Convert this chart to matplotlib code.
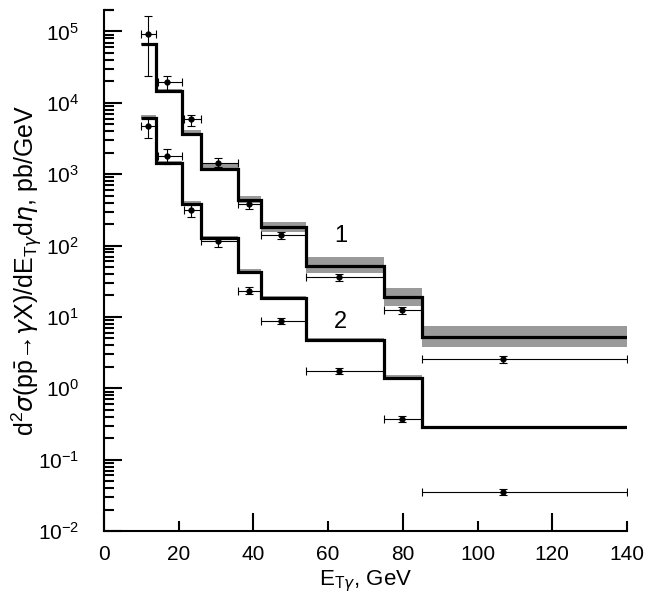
import numpy as np
import matplotlib
matplotlib.use("Agg")
import matplotlib.pyplot as plt
from matplotlib.ticker import FixedLocator, NullFormatter, FormatStrFormatter, LogFormatterSciNotation

plt.rcParams['font.family'] = ['Liberation Sans', 'DejaVu Sans']
plt.rcParams['mathtext.fontset'] = 'custom'
plt.rcParams['mathtext.rm'] = 'Liberation Sans'
plt.rcParams['mathtext.it'] = 'DejaVu Sans:italic'
plt.rcParams['mathtext.sf'] = 'Liberation Sans'
plt.rcParams['axes.unicode_minus'] = False

# bin edges (GeV)
edges = [10, 14, 21, 26, 36, 42, 54, 75, 85, 140]

# theory curve 1 (upper) and its band
theory1 = [6.6e4, 1.46e4, 3.7e3, 1.2e3, 436, 181, 52, 18.8, 5.3]
band1_hi = [7.0e4, 1.55e4, 4.2e3, 1.45e3, 497, 216, 68.6, 25.7, 7.5]
band1_lo = [6.4e4, 1.40e4, 3.5e3, 1.10e3, 392, 157, 41.7, 14.2, 3.75]

# theory curve 2 (lower) and its band
theory2 = [6.2e3, 1.43e3, 383, 126, 43, 18.2, 4.74, 1.40, 0.288]
band2_hi = [6.7e3, 1.55e3, 415, 137, 47, 19.8, 5.1, 1.52, 0.30]
band2_lo = [6.0e3, 1.39e3, 372, 122, 41.5, 17.6, 4.6, 1.36, 0.28]

# measured points
x_pts = [11.7, 17.0, 23.3, 30.4, 38.9, 47.4, 63.0, 79.8, 106.9]
x_lo = [10, 14.5, 21.5, 26, 36, 42, 54, 75, 85]
x_hi = [14, 21, 26, 36, 42, 54, 75, 85, 140]

y1 = [9.3e4, 1.93e4, 5.9e3, 1.44e3, 379, 139, 35.9, 12.5, 2.57]
y1_up = [1.63e5, 2.4e4, 6.7e3, 1.66e3, 436, 155, 39.8, 13.9, 2.86]
y1_dn = [2.4e4, 1.52e4, 4.75e3, 1.28e3, 323, 125, 32.2, 11.0, 2.28]

y2 = [4.8e3, 1.77e3, 316, 116, 23.1, 8.85, 1.76, 0.37, 0.0347]
y2_up = [6.3e3, 2.24e3, 371, 129, 26.0, 9.67, 1.93, 0.41, 0.0385]
y2_dn = [3.2e3, 1.40e3, 250, 94.6, 20.8, 7.94, 1.60, 0.34, 0.0315]

decades = [1e-2, 1e-1, 1e0, 1e1, 1e2, 1e3, 1e4, 1e5]

fig = plt.figure(figsize=(6.64, 6.08), dpi=100)
ax = fig.add_axes([0.1566, 0.1266, 0.7877, 0.857])

for hi, lo in [(band1_hi, band1_lo), (band2_hi, band2_lo)]:
    ax.stairs(hi, edges, baseline=lo, fill=True, color='#9a9a9a', lw=0)
for th in [theory1, theory2]:
    ax.stairs(th, edges, baseline=None, color='black', lw=2.3)

xp = np.array(x_pts)
xerr = [xp - np.array(x_lo), np.array(x_hi) - xp]
for y, up, dn in [(y1, y1_up, y1_dn), (y2, y2_up, y2_dn)]:
    y = np.array(y)
    yerr = [y - np.array(dn), np.array(up) - y]
    ax.errorbar(xp, y, xerr=xerr, yerr=yerr, fmt='o', ms=3.5, color='black',
                ecolor='black', elinewidth=0.8, capsize=3, capthick=0.8)

ax.text(63.3, 136, '1', fontsize=17, ha='center', va='center')
ax.text(63.3, 8.5, '2', fontsize=17, ha='center', va='center')

ax.set_yscale('log')
ax.set_xlim(0, 140)
ax.set_ylim(1e-2, 2e5)

for s in ['top', 'right']:
    ax.spines[s].set_visible(False)
for s in ['left', 'bottom']:
    ax.spines[s].set_linewidth(1.5)

ax.xaxis.set_major_locator(FixedLocator([0, 40, 80, 120]))
ax.xaxis.set_minor_locator(FixedLocator([20, 60, 100, 140]))
ax.xaxis.set_major_formatter(FormatStrFormatter('%d'))
ax.xaxis.set_minor_formatter(FormatStrFormatter('%d'))

minor_y = [m * d for d in decades for m in range(2, 10)] + [2e5]
minor_y = [v for v in minor_y if v <= 2e5]
ax.yaxis.set_major_locator(FixedLocator(decades))
ax.yaxis.set_minor_locator(FixedLocator(minor_y))
ax.yaxis.set_major_formatter(LogFormatterSciNotation())
ax.yaxis.set_minor_formatter(NullFormatter())

ax.tick_params(which='major', direction='in', length=13, width=1.5, labelsize=15, pad=10)
ax.tick_params(which='minor', direction='in', length=7, width=1.5, labelsize=15, pad=10)
ax.tick_params(axis='y', which='both', pad=18)

ax.set_xlabel(r'E$_{\mathrm{T}\gamma}$, GeV', fontsize=16, va='top')
ax.xaxis.set_label_coords(0.5, -0.072)
ax.set_ylabel('d$^{2}\\sigma$(p$\\bar{\\mathrm{p}}$\u2192$\\gamma$X)/dE$_{\\mathrm{T}\\gamma}$d$\\eta$, pb/GeV',
              fontsize=18)
ax.yaxis.set_label_coords(-0.113, 0.5)

fig.savefig('out.png', dpi=100)
